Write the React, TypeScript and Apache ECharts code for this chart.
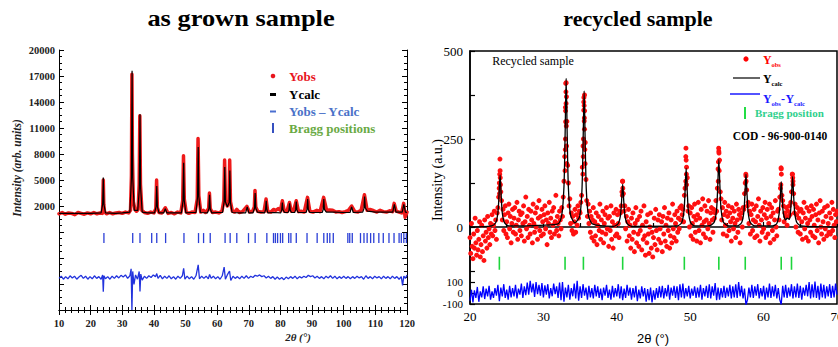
import React, { useEffect, useRef } from "react";
import * as echarts from "echarts";

const SERIF = '"Liberation Serif", "Times New Roman", serif';
const SANS = '"Liberation Sans", Arial, sans-serif';

// ---------------- LEFT PANEL (as grown sample) ----------------
// Ycalc key points [2θ, intensity]
const leftCalc: [number, number][] = [
  [10, 1150], [15, 1150], [20, 1150],
  [23.3, 1200], [23.8, 2190], [24, 5300], [24.2, 2190], [24.7, 1200],
  [28, 1150], [30, 1200],
  [32.4, 1300], [32.9, 5260], [33.1, 17600], [33.3, 5260], [33.8, 1500],
  [34.9, 1500], [35.4, 4010], [35.6, 12600], [35.8, 4010], [36.3, 1300],
  [38, 1200],
  [40.2, 1200], [40.7, 1940], [40.9, 4300], [41.1, 1940], [41.6, 1200],
  [43.1, 1200], [43.6, 1700], [44.1, 1200], [46, 1200],
  [48.7, 1200], [49.2, 2610], [49.4, 7000], [49.6, 2610], [50.1, 1200],
  [52, 1250],
  [53.3, 1250], [53.8, 3060], [54, 8800], [54.2, 3060], [54.7, 1250],
  [56.9, 1200], [57.4, 1690], [57.6, 3300], [57.8, 1690], [58.3, 1200],
  [60, 1250],
  [61.7, 1250], [62.2, 2490], [62.4, 6500], [62.6, 2490], [63.2, 1900],
  [63.8, 2400], [64, 6100], [64.2, 2400], [64.7, 1250],
  [67, 1200], [69, 1200], [69.5, 1900], [70, 1200],
  [71.3, 1200], [71.8, 1740], [72, 3500], [72.2, 1740], [72.7, 1300],
  [75, 1200], [75.3, 1600], [75.5, 2600], [75.7, 1600], [76, 1200],
  [78, 1250],
  [80.1, 1200], [80.4, 1550], [80.6, 2400], [80.8, 1550], [81.3, 1250],
  [82.4, 1250], [82.7, 1500], [82.9, 2300], [83.1, 1500], [83.5, 1250],
  [84.5, 1250], [84.8, 1550], [85, 2500], [85.2, 1550], [85.6, 1250],
  [88.1, 1250], [88.4, 1600], [88.6, 2800], [88.8, 1600], [89.3, 1250],
  [91, 1250],
  [93.2, 1250], [93.5, 1600], [93.7, 2800], [93.9, 1600], [94.5, 1300],
  [97, 1300], [100, 1250],
  [102, 1250], [102.5, 1900], [103, 1250],
  [106, 1300], [106.4, 1700], [106.6, 3100], [106.8, 1800], [107.5, 1400],
  [110, 1300], [113, 1300],
  [115.5, 1300], [116, 2200], [116.5, 1300],
  [118.5, 1300], [119, 2200], [119.5, 1300], [120, 1250],
];

// Yobs [2θ, intensity]
const leftObs: [number, number][] = [
  [10, 1100], [11, 1250], [12, 1050], [13, 1200], [14, 1150], [15, 1000], [16, 1250], [17, 1150],
  [18, 1050], [19, 1200], [20, 1100], [21, 1250], [22, 1100], [23, 1200], [23.7, 1150], [23.85, 2400],
  [24, 5000], [24.15, 2200], [24.4, 1300], [25, 1100], [26, 1250], [27, 1100], [28, 1200], [29, 1250],
  [30, 1150], [31, 1300], [32, 1200], [32.6, 1500], [32.9, 5500], [33.05, 17200], [33.2, 8000],
  [33.5, 2500], [34, 1600], [34.5, 1400], [35, 1600], [35.35, 4500], [35.55, 12400], [35.75, 4500],
  [36.2, 1500], [37, 1250], [38, 1150], [39, 1300], [40, 1200], [40.6, 1700], [40.85, 5000],
  [41.1, 1800], [41.6, 1250], [42.5, 1200], [43.6, 1800], [44.5, 1150], [45.5, 1250], [46.5, 1100],
  [47.5, 1300], [48.5, 1200], [49.1, 2600], [49.35, 7800], [49.6, 2800], [50.2, 1300], [51, 1150],
  [52, 1300], [53, 1250], [53.7, 2800], [53.95, 9800], [54.2, 3200], [54.8, 1300], [55.6, 1500],
  [56.3, 1250], [57.3, 1700], [57.55, 3500], [57.8, 1700], [58.5, 1250], [59.5, 1300], [60.5, 1200],
  [61.5, 1400], [62.1, 2600], [62.35, 7300], [62.6, 2700], [63.2, 2000], [63.75, 2600], [63.95, 7300],
  [64.2, 2500], [64.8, 1400], [65.5, 1300], [66.2, 1600], [67, 1250], [68, 1350], [69.4, 1950],
  [70.2, 1300], [71.2, 1400], [71.75, 1900], [71.95, 3800], [72.2, 1900], [72.8, 1400], [73.8, 1300],
  [74.8, 1350], [75.45, 2800], [76, 1350], [77, 1300], [77.8, 1600], [78.5, 1500], [79.3, 1700],
  [80, 1500], [80.6, 2600], [81.2, 1400], [82, 1350], [82.85, 2400], [83.4, 1400], [84.1, 1400],
  [85, 2600], [85.7, 1350], [86.5, 1400], [87.5, 1300], [88.55, 3000], [89.3, 1400], [90.3, 1300],
  [91.5, 1500], [92.5, 1350], [93.65, 3000], [94.6, 1500], [95.5, 1550], [96.5, 1500], [97.5, 1300],
  [98.5, 1350], [99.5, 1250], [100.5, 1350], [101.5, 1500], [102.5, 2000], [103.5, 1350],
  [104.5, 1300], [105.5, 1500], [106.55, 3300], [107.4, 1500], [108.3, 1600], [109.5, 1450],
  [110.5, 1300], [111.5, 1500], [112.5, 1350], [113.5, 1300], [114.5, 1450], [115.4, 1350],
  [115.95, 2300], [116.6, 1400], [117.5, 1300], [118.3, 1200], [118.95, 2300], [119.4, 700], [120, 1300],
];

// Yobs - Ycalc [2θ, difference]
const leftDiff: [number, number][] = [
  [10, -100], [10.7, 150], [11.4, -200], [12.1, 100], [12.8, -150], [13.5, 200], [14.2, -50], [14.9, 150],
  [15.6, -200], [16.3, 50], [17, 250], [17.7, -100], [18.4, 150], [19.1, -200], [19.8, 100], [20.5, -150],
  [21.2, 200], [21.9, -100], [22.6, 100], [23.3, -200], [23.8, 300], [24, -1650], [24.2, 200], [24.7, -150],
  [25.4, 100], [26.1, -200], [26.8, 150], [27.5, -100], [28.2, 200], [28.9, -50], [29.6, 250], [30.3, 50],
  [31, 300], [31.7, -100], [32.4, 200], [32.8, 1000], [33.05, -3750], [33.3, 700], [33.7, -800], [34.2, 300],
  [34.8, -200], [35.35, 700], [35.6, -1600], [35.85, 400], [36.3, -300], [37, 150], [37.7, -100], [38.4, 200],
  [39.1, 0], [39.8, 300], [40.5, 100], [40.9, 450], [41.3, -100], [42, 250], [42.7, -150], [43.4, 150],
  [44.1, -100], [44.8, 200], [45.5, -150], [46.2, 100], [46.9, -200], [47.6, 150], [48.3, -100], [49, 200],
  [49.4, 1050], [49.8, -200], [50.5, 150], [51.2, -150], [51.9, 100], [52.6, -200], [53.3, 200], [54, 1450],
  [54.4, -150], [55.1, 150], [55.8, -100], [56.5, 150], [57.2, -150], [57.6, 350], [58.1, -100], [58.8, 150],
  [59.5, -150], [60.2, 100], [60.9, -200], [61.6, 200], [62.2, 1200], [62.6, -200], [63.2, 300], [63.9, 750],
  [64.3, -350], [65, 150], [65.7, -100], [66.4, 100], [67.1, -150], [67.8, 150], [68.5, -100], [69.2, 200],
  [69.9, -100], [70.6, 150], [71.3, 0], [72, 250], [72.7, 150], [73.4, 300], [74.1, 100], [74.8, 200],
  [75.5, -50], [76.2, 150], [76.9, -100], [77.6, 100], [78.3, -200], [79, 50], [79.7, -200], [80.4, 0],
  [81.1, -250], [81.8, 50], [82.5, -150], [83.2, 100], [83.9, -100], [84.6, 150], [85.3, -150], [86, 100],
  [86.7, -50], [87.4, 150], [88.1, 0], [88.8, 250], [89.5, 100], [90.2, 200], [90.9, -50], [91.6, 150],
  [92.3, -100], [93, 100], [93.7, -150], [94.4, 150], [95.1, -50], [95.8, 200], [96.5, -100], [97.2, 150],
  [97.9, -150], [98.6, 100], [99.3, -100], [100, 150], [100.7, -100], [101.4, 100], [102.1, -150], [102.8, 100],
  [103.5, -100], [104.2, 150], [104.9, -50], [105.6, 100], [106.3, -200], [107, 200], [107.7, -100], [108.4, 100],
  [109.1, -150], [109.8, 150], [110.5, -50], [111.2, 100], [111.9, -150], [112.6, 150], [113.3, -100], [114, 100],
  [114.7, -150], [115.4, 150], [116.1, -100], [116.8, 100], [117.5, -200], [118.2, 100], [118.6, -900], [119, 150],
  [119.5, -100], [120, 300],
];

const leftBragg: number[] = [
  24.2, 33.3, 35.6, 39.3, 40.9, 43.7, 49.5, 54.1, 55.7, 57.8, 62.5, 64.1, 66.2, 69.9, 72.0,
  75.7, 77.8, 78.4, 79.1, 80.0, 80.7, 82.6, 83.3, 85.0, 88.4, 91.6, 93.7, 94.8, 95.6, 96.7,
  101.3, 101.9, 102.7, 105.3, 106.4, 107.4, 108.5, 109.5, 111.1, 112.5, 114.3, 115.9, 117.5,
  118.2, 119.0, 119.8,
];

const leftYTickLabels: number[] = [2000, 5000, 8000, 11000, 14000, 17000, 20000];

// ---------------- RIGHT PANEL (recycled sample) ----------------
const rightCalc: [number, number][] = [
  [20, 0], [22.9, 3], [23.5, 12], [23.8, 40], [23.95, 89], [24.1, 148], [24.25, 89], [24.4, 40], [24.7, 12], [25.3, 3],
  [31.9, 8], [32.5, 34], [32.8, 114], [32.95, 253], [33.1, 422], [33.25, 253], [33.4, 114], [33.7, 34], [34.3, 12],
  [34.95, 31], [35.25, 104], [35.4, 232], [35.55, 387], [35.7, 232], [35.85, 104], [36.15, 31], [36.75, 8],
  [39.6, 2], [40.2, 10], [40.5, 33], [40.65, 73], [40.8, 122], [40.95, 73], [41.1, 33], [41.4, 10], [42, 2],
  [48.25, 3], [48.85, 13], [49.15, 45], [49.3, 100], [49.45, 167], [49.6, 100], [49.75, 45], [50.05, 13], [50.65, 3],
  [52.7, 4], [53.3, 15], [53.6, 52], [53.75, 115], [53.9, 192], [54.05, 115], [54.2, 52], [54.5, 15], [55.1, 4],
  [56.4, 3], [57, 12], [57.3, 40], [57.45, 90], [57.6, 150], [57.75, 90], [57.9, 40], [58.2, 12], [58.8, 3],
  [61.2, 3], [61.8, 10], [62.1, 35], [62.25, 77], [62.4, 129], [62.55, 77], [62.7, 38], [63, 20], [63.2, 25],
  [63.5, 22], [63.65, 38], [63.8, 86], [63.95, 143], [64.1, 86], [64.25, 38], [64.55, 12], [65.15, 3], [70, 0],
];

// Yobs sampled every 0.1° from 20.0° to 70.0°
const rightObsStart = 20;
const rightObsStep = 0.1;
const rightObs: number[] = [
  -30, -75, 10, -55, -90, -20, -60, 25, -45, -80,
  -10, -65, -35, 15, -85, -50, 5, -70, -25, -95,
  20, -40, -15, -60, 30, -30, -5, -50, 10, -20,
  35, -25, 5, 45, -10, 20, -35, 40, 55, 85,
  125, 160, 100, 75, 20, 50, -10, 35, 60, -20,
  15, -30, 40, 65, -5, 30, -45, 10, 50, -15,
  25, 55, -20, 5, 70, -35, 20, 45, -10, 35,
  -25, 40, 10, 60, -40, 15, 85, -5, 30, -30,
  50, 5, -20, 45, 20, -45, 65, 10, -15, 40,
  0, 55, -35, 25, 75, -10, 30, -25, 50, 15,
  -20, 35, 60, -5, 20, -50, 40, 10, 70, -15,
  25, -30, 45, 5, 55, -20, 15, 90, -10, 30,
  10, -25, 45, 20, -5, 55, 30, 85, 130, 200,
  340, 410, 300, 175, 125, 60, 80, 10, 40, -10,
  30, -20, 15, 50, -15, 35, 5, 60, 25, 45,
  40, 70, 90, 170, 230, 355, 375, 240, 135, 75,
  30, 65, 10, 45, -15, 30, -30, 20, 55, -40,
  15, -25, 40, -50, 5, 30, -10, 65, -35, 20,
  -15, 45, -45, 10, 35, -20, 55, -5, 25, -55,
  30, -10, 60, -35, 15, -60, 40, 5, -25, 50,
  -20, 35, 10, -30, 45, 40, 60, 100, 130, 95,
  45, 60, -5, 30, -40, 15, 50, -25, 5, -60,
  25, -35, 40, -15, -70, 10, 55, -45, 20, -20,
  -55, 30, -10, 45, -65, 5, -35, 60, -25, -80,
  15, -45, 35, -20, -75, 0, 40, -60, -15, -85,
  -30, 25, -50, 50, -10, -65, 20, -35, 35, -5,
  -45, 15, -70, 30, -20, 55, -40, 5, -55, 25,
  -10, 40, -60, -25, 20, -45, 65, -5, -30, 35,
  10, -40, 45, -15, 25, -5, 55, 20, 60, 35,
  50, 15, 90, 110, 200, 170, 140, 45, 60, 0,
  40, -25, 55, 10, -35, 30, 65, -15, 20, -40,
  35, 70, -10, 25, -45, 50, 5, 80, -20, 15,
  60, -30, 20, 45, -5, 75, 10, -35, 40, 55,
  20, -15, 50, 25, 40, 75, 45, 110, 165, 215,
  190, 100, 80, 20, 55, -20, 35, 70, 5, 45,
  -25, 30, 60, -10, 40, 15, -40, 55, 25, -5,
  45, 10, -30, 65, 20, -15, 50, 35, -45, 25,
  40, 0, 55, 50, 95, 125, 145, 105, 60, 70,
  10, 45, -20, 35, 65, -10, 20, 50, -30, 15,
  60, -25, 30, 80, 5, -40, 45, 20, -15, 55,
  -5, 35, 70, -30, 25, 50, -20, 10, 65, -45,
  30, 55, -10, 40, -35, 20, 75, 0, -25, 45,
  50, 20, 85, 110, 165, 90, 75, 60, 15, 40,
  30, 55, 5, 45, 30, 60, 35, 70, 100, 150,
  130, 95, 40, 65, 0, 35, 55, -15, 25, 45,
  -20, 50, 15, -35, 40, 70, -5, 25, -30, 55,
  10, -40, 45, 20, -15, 60, 30, -25, 50, 5,
  -30, 35, 65, -10, 20, -45, 40, 75, 0, -20,
  45, 15, -35, 55, -5, 30, -25, 60, 10, -15,
  40, -20, 25, 70, -10, 50, 5, -30, 35, 15,
  45,
];

// extra Yobs points on the peak flanks [2θ, intensity]
const rightObsPeaks: [number, number][] = [
  [24.05, 150], [24.08, 193], [24.12, 140], [23.98, 110], [24.15, 120], [24.02, 95],
  [33.05, 408], [33.07, 384], [33.09, 351], [33.03, 299], [33.12, 287], [33, 250], [32.98, 220],
  [33.15, 230], [33.18, 180], [32.95, 160], [33.02, 330], [33.14, 370],
  [35.52, 368], [35.55, 345], [35.5, 332], [35.58, 310], [35.56, 301], [35.6, 278], [35.45, 250],
  [35.65, 220], [35.42, 200], [35.68, 180], [35.38, 150], [35.62, 330],
  [40.78, 130], [40.82, 110], [40.75, 90],
  [49.42, 224], [49.45, 190], [49.48, 150], [49.4, 130], [49.5, 120],
  [53.88, 224], [53.92, 210], [53.85, 185], [53.95, 160], [53.82, 130],
  [57.58, 150], [57.62, 130],
  [62.38, 168], [62.42, 150], [62.35, 120],
  [63.93, 150], [63.97, 140], [64, 120],
];

// Yobs - Ycalc sampled every 0.2° from 20.0° to 70.0°
const rightDiffStep = 0.2;
const rightDiff: number[] = [
  -70, 30, -85, 25, -45, 55, -80, 15, -40, 60,
  -55, 40, -30, 65, -60, 15, -45, 45, -25, 75,
  -75, 50, -30, 80, -45, 30, -60, 65, -40, 45,
  -30, 75, -50, 40, -15, 85, -45, 60, -20, 95,
  -15, 110, 5, 85, -35, 100, -10, 75, -25, 90,
  -40, 70, -15, 80, -50, 45, -30, 85, -10, 60,
  -45, 95, -65, 100, -80, 50, -40, 75, -60, 45,
  -30, 85, -50, 110, -70, 60, -45, 80, -25, 50,
  -60, 65, -40, 45, -50, 75, -30, 60, -45, 40,
  -65, 50, -25, 75, -45, 30, -60, 65, -40, 45,
  -30, 80, -50, 60, -65, 40, -45, 75, -25, 50,
  -60, 45, -40, 65, -75, 30, -50, 60, -30, 45,
  -80, 35, -65, 50, -85, 25, -60, 45, -45, 60,
  -40, 65, -50, 45, -30, 75, -60, 50, -25, 65,
  -45, 60, -65, 80, -40, 85, -50, 45, -30, 65,
  -50, 40, -25, 60, -45, 50, -40, 75, -60, 45,
  -30, 65, -45, 80, -50, 60, -25, 90, -65, 50,
  -60, 45, -40, 65, -45, 50, -30, 75, -50, 60,
  -40, 80, -45, 100, -30, 65, -50, 40, -110, -60,
  50, -40, 75, -45, 60, -25, 80, -50, 45, -30,
  65, -60, 50, -40, 85, -45, 60, -30, 75, -50,
  45, -60, -105, 65, -40, 75, -45, 50, -30, 80,
  -50, 60, -40, 85, -45, 65, -60, 50, -25, 75,
  -30, 100, -50, 80, -40, 105, -45, 65, -60, 85,
  -40, 75, -50, 60, -30, 80, -45, 65, -40, 85,
  -15,
];

const rightBragg: number[] = [24.0, 32.95, 35.45, 40.8, 49.2, 53.9, 57.5, 62.4, 63.8];

// ---------------- layout constants ----------------
const LEFT_SHIFT = 10000; // left y axis runs from -10000 to 20000
const LEFT_DIFF_OFFSET = -6250;
const LEFT_BRAGG_Y = -1700;
const R_DIFF_ZERO = -187.5;
const R_DIFF_SCALE = 0.3125;
const R_BRAGG_Y = -103;
const R_MIN = R_DIFF_ZERO - 100 * R_DIFF_SCALE;

export default function App() {
  const ref = useRef<HTMLDivElement>(null);

  useEffect(() => {
    if (!ref.current) return;
    const chart = echarts.init(ref.current, undefined, { renderer: "svg" });

    const axisLineBlack = { show: true, lineStyle: { color: "#000", width: 1 } };

    const leftXAxisCommon = {
      type: "value" as const,
      gridIndex: 0,
      min: 10,
      max: 120,
      interval: 10,
      splitLine: { show: false },
      axisLine: axisLineBlack,
      axisTick: { show: true, inside: true, length: 5, lineStyle: { color: "#000" } },
      minorTick: { show: true, splitNumber: 5, length: 3, lineStyle: { color: "#000" } },
    };
    const leftYAxisCommon = {
      type: "value" as const,
      gridIndex: 0,
      min: 0,
      max: 30000,
      interval: 3000,
      splitLine: { show: false },
      axisLine: axisLineBlack,
      axisTick: { show: true, inside: true, length: 5, lineStyle: { color: "#000" } },
      minorTick: { show: true, splitNumber: 4, length: 3, lineStyle: { color: "#000" } },
    };

    // main-scale labels plus the ±100 labels of the difference scale
    const rightLabelValues = [500, 250, 0, R_DIFF_ZERO + 100 * R_DIFF_SCALE, R_MIN];
    const rightTickValues = [500, 375, 250, 125, 0, -125, R_DIFF_ZERO + 100 * R_DIFF_SCALE, R_DIFF_ZERO, R_MIN];

    const diffLabel = (v: number) => String(Math.round((v - R_DIFF_ZERO) / R_DIFF_SCALE));

    const graphic: any[] = [
      // titles
      { type: "text", x: 241, y: 18, scaleX: 1.1, style: { text: "as grown sample", font: `bold 24px ${SERIF}`, fill: "#000", align: "center", verticalAlign: "middle" } },
      { type: "text", x: 638, y: 18, style: { text: "recycled sample", font: `bold 22px ${SERIF}`, fill: "#000", align: "center", verticalAlign: "middle" } },
      // left axis names
      { type: "text", x: 17, y: 168, rotation: Math.PI / 2, style: { text: "Intensity (arb. units)", font: `italic bold 11.5px ${SERIF}`, fill: "#222", align: "center", verticalAlign: "middle" } },
      { type: "text", x: 298, y: 337, style: { text: "2θ (°)", font: `italic bold 11px ${SERIF}`, fill: "#222", align: "center", verticalAlign: "middle" } },
      // left legend
      { type: "circle", shape: { cx: 273, cy: 76, r: 2.3 }, style: { fill: "#e8141c" } },
      { type: "text", x: 289, y: 76, style: { text: "Yobs", font: `bold 13px ${SERIF}`, fill: "#e8141c", verticalAlign: "middle" } },
      { type: "rect", shape: { x: 270, y: 93, width: 6, height: 3 }, style: { fill: "#000" } },
      { type: "text", x: 289, y: 94, style: { text: "Ycalc", font: `bold 13px ${SERIF}`, fill: "#000", verticalAlign: "middle" } },
      { type: "rect", shape: { x: 270, y: 110.5, width: 6, height: 2 }, style: { fill: "#4a6fd0" } },
      { type: "text", x: 289, y: 111, style: { text: "Yobs – Ycalc", font: `bold 13px ${SERIF}`, fill: "#4a72c8", verticalAlign: "middle" } },
      { type: "rect", shape: { x: 272, y: 123, width: 2, height: 10 }, style: { fill: "#3550c0" } },
      { type: "text", x: 289, y: 128, style: { text: "Bragg positions", font: `bold 13px ${SERIF}`, fill: "#6aaa44", verticalAlign: "middle" } },
      // right axis names
      { type: "text", x: 437, y: 180, rotation: Math.PI / 2, style: { text: "Intensity (a.u.)", font: `14px ${SERIF}`, fill: "#000", align: "center", verticalAlign: "middle" } },
      { type: "text", x: 653, y: 338, style: { text: "2θ (°)", font: `13px ${SANS}`, fill: "#000", align: "center", verticalAlign: "middle" } },
      { type: "text", x: 533, y: 61, style: { text: "Recycled sample", font: `12px ${SERIF}`, fill: "#000", align: "center", verticalAlign: "middle" } },
      // right legend
      { type: "circle", shape: { cx: 746, cy: 59, r: 2.6 }, style: { fill: "#ff0000" } },
      { type: "text", x: 763, y: 60, style: { text: "Y", font: `bold 12px ${SERIF}`, fill: "#ff0000", verticalAlign: "middle" } },
      { type: "text", x: 771.5, y: 64.5, style: { text: "obs", font: `bold 6.5px ${SERIF}`, fill: "#ff0000", verticalAlign: "middle" } },
      { type: "line", shape: { x1: 733, y1: 78, x2: 760, y2: 78 }, style: { stroke: "#333", lineWidth: 1.5 } },
      { type: "text", x: 763, y: 78.5, style: { text: "Y", font: `bold 12px ${SERIF}`, fill: "#000", verticalAlign: "middle" } },
      { type: "text", x: 771.5, y: 83, style: { text: "calc", font: `bold 6.5px ${SERIF}`, fill: "#000", verticalAlign: "middle" } },
      { type: "line", shape: { x1: 730, y1: 94, x2: 760, y2: 94 }, style: { stroke: "#1a1aff", lineWidth: 1.5 } },
      { type: "text", x: 763, y: 99, style: { text: "Y", font: `bold 12px ${SERIF}`, fill: "#1a1aff", verticalAlign: "middle" } },
      { type: "text", x: 771.5, y: 103.5, style: { text: "obs", font: `bold 6.5px ${SERIF}`, fill: "#1a1aff", verticalAlign: "middle" } },
      { type: "text", x: 781, y: 99, style: { text: "-", font: `bold 12px ${SERIF}`, fill: "#1a1aff", verticalAlign: "middle" } },
      { type: "text", x: 785.5, y: 99, style: { text: "Y", font: `bold 12px ${SERIF}`, fill: "#1a1aff", verticalAlign: "middle" } },
      { type: "text", x: 794, y: 103.5, style: { text: "calc", font: `bold 6.5px ${SERIF}`, fill: "#1a1aff", verticalAlign: "middle" } },
      { type: "rect", shape: { x: 744, y: 107, width: 2, height: 12 }, style: { fill: "#22dd44" } },
      { type: "text", x: 755, y: 113, style: { text: "Bragg position", font: `bold 11px ${SERIF}`, fill: "#2fd08c", verticalAlign: "middle" } },
      { type: "text", x: 780, y: 136, style: { text: "COD - 96-900-0140", font: `bold 11.5px ${SERIF}`, fill: "#000", align: "center", verticalAlign: "middle" } },
    ];

    const option: any = {
      animation: false,
      backgroundColor: "#fff",
      graphic,
      grid: [
        { left: 59, top: 50, width: 348, height: 260, outerBoundsMode: "none" },
        {
          left: 470, top: 51, width: 367, height: 253, outerBoundsMode: "none",
          show: true, borderColor: "#000", borderWidth: 1.5, backgroundColor: "transparent",
        },
      ],
      xAxis: [
        {
          ...leftXAxisCommon,
          position: "bottom",
          axisLabel: { show: true, margin: 8, color: "#222", fontFamily: SERIF, fontWeight: "bold", fontSize: 10.5 },
        },
        { ...leftXAxisCommon, position: "top", axisLabel: { show: false } },
        {
          type: "value",
          gridIndex: 1,
          min: 20,
          max: 70,
          interval: 10,
          position: "bottom",
          splitLine: { show: false },
          axisLine: { show: true, lineStyle: { color: "#000", width: 1.5 } },
          axisTick: { show: true, inside: true, length: 5, lineStyle: { color: "#000", width: 1.2 } },
          minorTick: { show: true, splitNumber: 2, length: 4, lineStyle: { color: "#000", width: 1.2 } },
          axisLabel: { show: true, margin: 6, color: "#000", fontFamily: SERIF, fontSize: 13, showMaxLabel: true, showMinLabel: true },
        },
      ],
      yAxis: [
        {
          ...leftYAxisCommon,
          position: "left",
          axisLabel: {
            show: true,
            margin: 4,
            color: "#222",
            fontFamily: SERIF,
            fontWeight: "bold",
            fontSize: 10.5,
            formatter: (v: number) => {
              const r = Math.round(v - LEFT_SHIFT);
              return leftYTickLabels.includes(r) ? String(r) : "";
            },
          },
        },
        { ...leftYAxisCommon, position: "right", axisLabel: { show: false } },
        {
          type: "value",
          gridIndex: 1,
          min: R_MIN,
          max: 500,
          position: "left",
          splitLine: { show: false },
          axisLine: { show: true, lineStyle: { color: "#000", width: 1.5 } },
          axisTick: { show: true, inside: true, length: 5, customValues: rightTickValues, lineStyle: { color: "#000", width: 1.2 } },
          axisLabel: {
            show: true,
            margin: 7,
            color: "#000",
            fontFamily: SERIF,
            fontSize: 13,
            showMinLabel: true,
            showMaxLabel: true,
            hideOverlap: false,
            customValues: rightLabelValues,
            formatter: (v: number) => (v >= 0 ? String(Math.round(v)) : "{s|" + diffLabel(v) + "}"),
            rich: { s: { fontSize: 11, lineHeight: 10, fontFamily: SERIF, color: "#000" } },
          },
        },
        {
          // companion axis carrying only the "0" of the difference scale
          type: "value",
          gridIndex: 1,
          min: R_MIN,
          max: 500,
          position: "left",
          splitLine: { show: false },
          axisLine: { show: false },
          axisTick: { show: false },
          axisLabel: {
            show: true,
            margin: 7,
            color: "#000",
            fontFamily: SERIF,
            fontSize: 11,
            lineHeight: 10,
            showMinLabel: true,
            showMaxLabel: true,
            customValues: [R_DIFF_ZERO],
            formatter: (v: number) => diffLabel(v),
          },
        },
      ],
      series: [
        {
          name: "Yobs",
          type: "line",
          xAxisIndex: 0,
          yAxisIndex: 0,
          data: leftObs.map(([x, y]) => [x, y + LEFT_SHIFT]),
          symbol: "none",
          lineStyle: { color: "#ee1a1a", width: 3.5, join: "round", cap: "round" },
          z: 2,
        },
        {
          name: "Ycalc",
          type: "line",
          xAxisIndex: 0,
          yAxisIndex: 0,
          data: leftCalc.map(([x, y]) => [x, y + LEFT_SHIFT]),
          symbol: "none",
          lineStyle: { color: "#000", width: 1.2 },
          z: 3,
        },
        {
          name: "Yobs – Ycalc",
          type: "line",
          xAxisIndex: 0,
          yAxisIndex: 0,
          data: leftDiff.map(([x, d]) => [x, d + LEFT_DIFF_OFFSET + LEFT_SHIFT]),
          symbol: "none",
          lineStyle: { color: "#2233dd", width: 1.3 },
          z: 3,
        },
        {
          name: "Bragg positions",
          type: "scatter",
          xAxisIndex: 0,
          yAxisIndex: 0,
          data: leftBragg.map((x) => [x, LEFT_BRAGG_Y + LEFT_SHIFT]),
          symbol: "rect",
          symbolSize: [1.3, 10],
          itemStyle: { color: "#2b3fd6", opacity: 1 },
          z: 3,
        },
        {
          name: "Yobs (recycled)",
          type: "scatter",
          xAxisIndex: 2,
          yAxisIndex: 2,
          data: [
            ...rightObs.map((v, i) => [rightObsStart + i * rightObsStep, v]),
            ...rightObsPeaks,
          ],
          symbol: "circle",
          symbolSize: 5,
          itemStyle: { color: "#ff1010", opacity: 1 },
          z: 2,
        },
        {
          name: "Ycalc (recycled)",
          type: "line",
          xAxisIndex: 2,
          yAxisIndex: 2,
          data: rightCalc,
          symbol: "none",
          smooth: 0.25,
          lineStyle: { color: "#000", width: 1.3 },
          z: 3,
        },
        {
          name: "Yobs - Ycalc (recycled)",
          type: "line",
          xAxisIndex: 2,
          yAxisIndex: 2,
          data: rightDiff.map((d, i) => [rightObsStart + i * rightDiffStep, R_DIFF_ZERO + d * R_DIFF_SCALE]),
          symbol: "none",
          lineStyle: { color: "#0000ff", width: 1.3 },
          z: 3,
        },
        {
          name: "Bragg position",
          type: "scatter",
          xAxisIndex: 2,
          yAxisIndex: 2,
          data: rightBragg.map((x) => [x, R_BRAGG_Y]),
          symbol: "rect",
          symbolSize: [1.6, 13],
          itemStyle: { color: "#1ed53c", opacity: 1 },
          z: 3,
        },
      ],
    };

    chart.setOption(option);
    return () => chart.dispose();
  }, []);

  return (
    <div
      ref={ref}
      style={{ position: "absolute", left: 0, top: 0, width: 838, height: 347, background: "#fff" }}
    />
  );
}
